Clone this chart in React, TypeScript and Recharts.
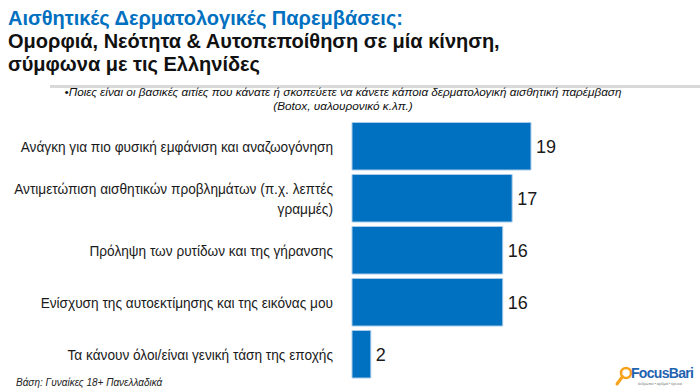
import React from 'react';
import { BarChart, Bar, XAxis, YAxis, LabelList } from 'recharts';

const categories = [
  'Ανάγκη για πιο φυσική εμφάνιση και αναζωογόνηση',
  'Αντιμετώπιση αισθητικών προβλημάτων (π.χ. λεπτές γραμμές)',
  'Πρόληψη των ρυτίδων και της γήρανσης',
  'Ενίσχυση της αυτοεκτίμησης και της εικόνας μου',
  'Τα κάνουν όλοι/είναι γενική τάση της εποχής',
];
const values = [19, 17, 16, 16, 2];

const titleLines = [
  'Αισθητικές Δερματολογικές Παρεμβάσεις:',
  'Ομορφιά, Νεότητα & Αυτοπεποίθηση σε μία κίνηση,',
  'σύμφωνα με τις Ελληνίδες',
];
const questionLines = [
  '•Ποιες είναι οι βασικές αιτίες που κάνατε ή σκοπεύετε να κάνετε κάποια δερματολογική αισθητική παρέμβαση',
  '(Botox, υαλουρονικό κ.λπ.)',
];
const baseNote = 'Βάση: Γυναίκες 18+ Πανελλαδικά';

const BLUE = '#0070C0';
const FONT = '"Liberation Sans", Arial, sans-serif';
const LABEL_SQUEEZE = 0.91;
const MAX_CHARS = 50;

const data = categories.map((name, i) => ({ name, value: values[i] }));

// greedy word wrap by character count
const wrapLabel = (s: string) => {
  const lines: string[] = [];
  let cur = '';
  s.split(' ').forEach((w) => {
    const next = cur ? cur + ' ' + w : w;
    if (next.length > MAX_CHARS && cur) {
      lines.push(cur);
      cur = w;
    } else {
      cur = next;
    }
  });
  if (cur) lines.push(cur);
  return lines;
};

const CategoryTick = (props: any) => {
  const { x, y, payload } = props;
  const lines = wrapLabel(payload.value);
  const lh = 19.5;
  const start = -((lines.length - 1) * lh) / 2;
  return (
    <g transform={`translate(${x - 11},${y}) scale(${LABEL_SQUEEZE},1)`}>
      <text textAnchor="end" fontFamily={FONT} fontSize={15} fill="#1a1a1a">
        {lines.map((l, i) => (
          <tspan key={i} x={0} y={start + i * lh} dy="0.355em">
            {l}
          </tspan>
        ))}
      </text>
    </g>
  );
};

const Logo = () => (
  <svg width={100} height={32} style={{ position: 'absolute', left: 600, top: 359 }}>
    <circle cx={26} cy={14} r={5} fill="none" stroke="#f7a21b" strokeWidth={2.5} />
    <line x1={22.5} y1={17.5} x2={17} y2={25} stroke="#f7a21b" strokeWidth={3} strokeLinecap="round" />
    <text x={31} y={19} fontFamily={FONT} fontSize={14} fontWeight="bold" fill="#1f63b0" letterSpacing={-0.7}>
      FocusBari
    </text>
    <text x={38} y={26} fontFamily={FONT} fontSize={3.5} fill="#777">
      άνθρωποι • αριθμοί • έρευνα
    </text>
  </svg>
);

export default function App() {
  return (
    <div style={{ position: 'absolute', left: 0, top: 0, width: 700, height: 391, background: '#fff', overflow: 'hidden', fontFamily: FONT }}>
      {titleLines.map((t, i) => (
        <div
          key={i}
          style={{
            position: 'absolute',
            left: 8,
            top: 6.5 + i * 23,
            fontSize: 20,
            fontWeight: 'bold',
            color: i === 0 ? BLUE : '#111',
            whiteSpace: 'nowrap',
            lineHeight: '23px',
          }}
        >
          {t}
        </div>
      ))}
      <div style={{ position: 'absolute', left: 50, top: 85, width: 650, height: 3, background: '#d9d9d9' }} />
      {questionLines.map((t, i) => (
        <div
          key={i}
          style={{
            position: 'absolute',
            left: 0,
            width: 686,
            top: 85 + i * 14,
            textAlign: 'center',
            fontSize: 11.75,
            fontStyle: 'italic',
            color: '#111',
            whiteSpace: 'nowrap',
            lineHeight: '14px',
          }}
        >
          {t}
        </div>
      ))}
      <div style={{ position: 'absolute', left: 0, top: 0 }}>
        <BarChart
          width={700}
          height={391}
          data={data}
          layout="vertical"
          margin={{ top: 120.5, right: 159.6, bottom: 10.5, left: 0 }}
        >
          <XAxis type="number" domain={[0, 20]} hide />
          <YAxis
            type="category"
            dataKey="name"
            width={352}
            axisLine={false}
            tickLine={false}
            tick={<CategoryTick />}
            interval={0}
          />
          <Bar dataKey="value" fill={BLUE} stroke="#a9cbe9" strokeWidth={1} barSize={47.5} isAnimationActive={false}>
            <LabelList
              dataKey="value"
              position="right"
              offset={5}
              style={{ fontFamily: FONT, fontSize: 18, fill: '#1a1a1a' }}
            />
          </Bar>
        </BarChart>
      </div>
      <div
        style={{
          position: 'absolute',
          left: 16,
          top: 377,
          fontSize: 10,
          fontStyle: 'italic',
          color: '#222',
          whiteSpace: 'nowrap',
          lineHeight: '12px',
        }}
      >
        {baseNote}
      </div>
      <Logo />
    </div>
  );
}
